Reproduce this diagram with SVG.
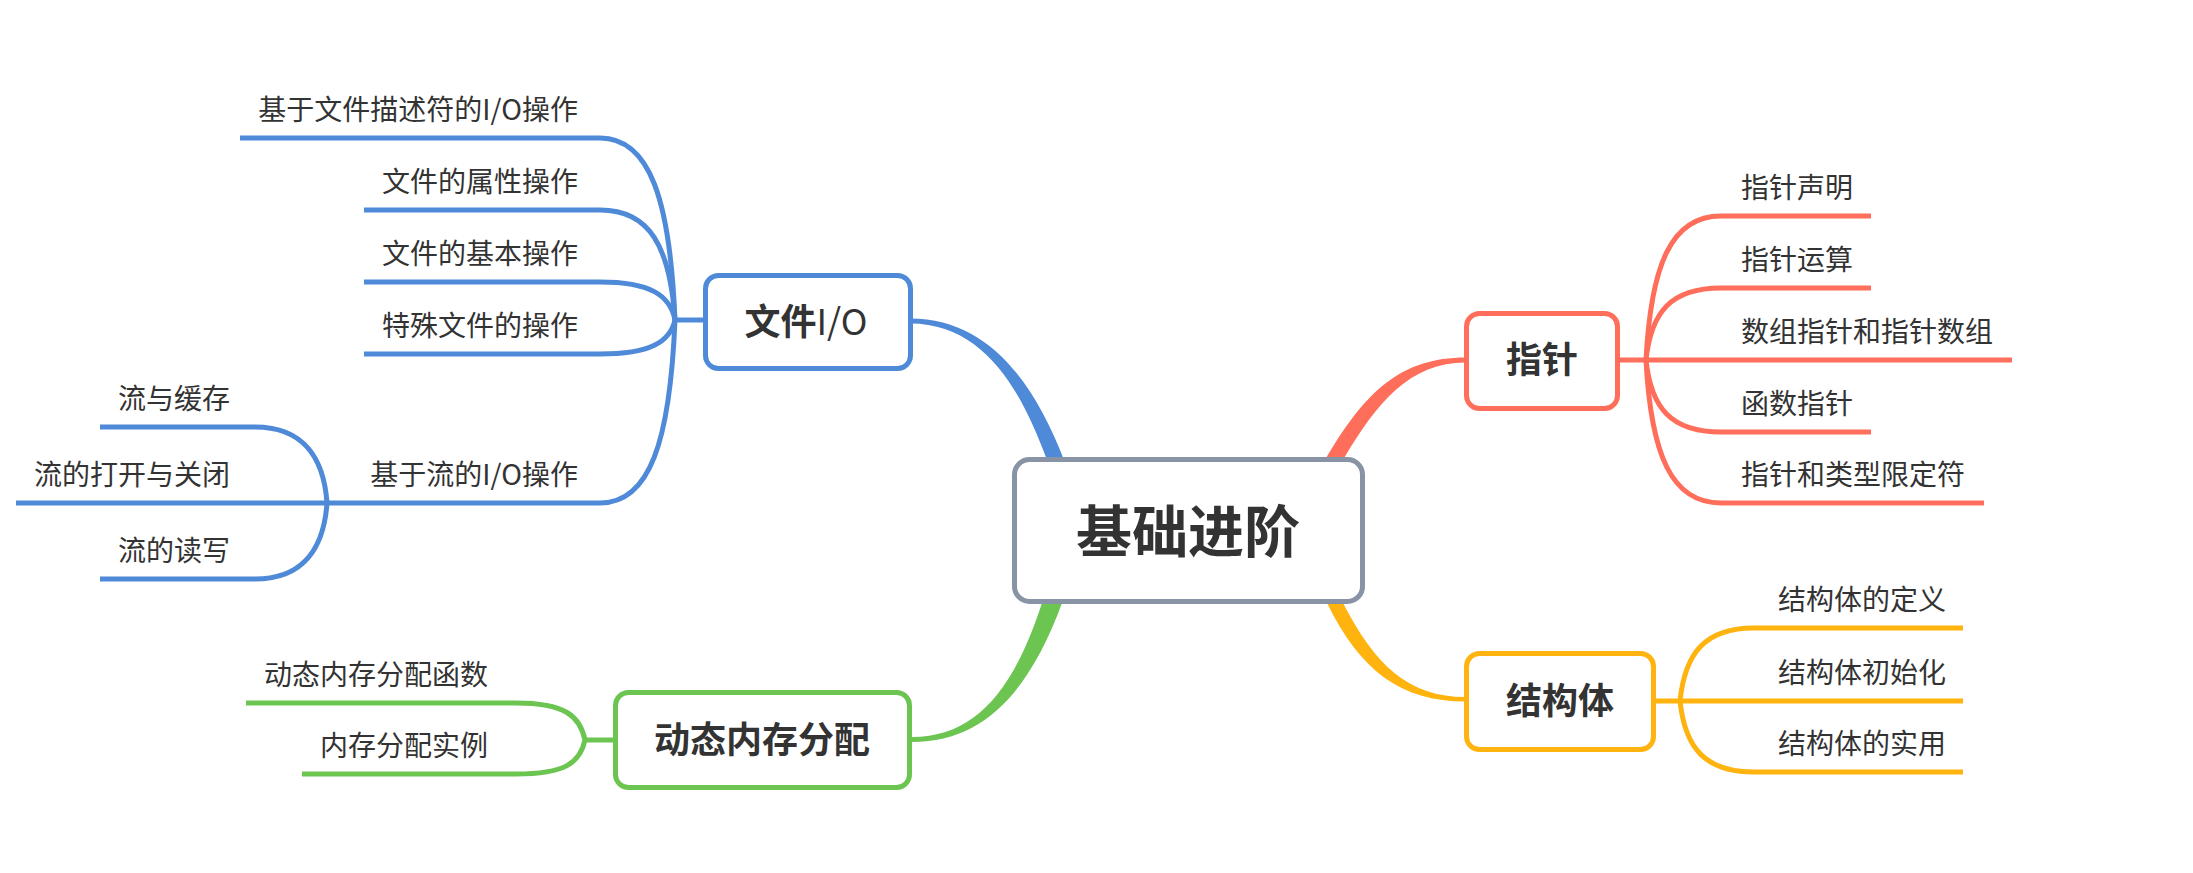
<svg xmlns="http://www.w3.org/2000/svg" width="2193" height="873" viewBox="0 0 2193 873">
<style>
.t{font-family:"Noto Sans CJK SC","Noto Sans",sans-serif;font-size:28px;fill:#333333}
.t1{font-family:"Noto Sans CJK SC","Noto Sans",sans-serif;font-size:36px;font-weight:bold;fill:#333333;text-anchor:middle}
.t0{font-family:"Noto Sans CJK SC","Noto Sans",sans-serif;font-size:56px;font-weight:bold;fill:#333333;text-anchor:middle}
.e{text-anchor:end}
.l{fill:none;stroke-width:5;stroke-linecap:butt}
.b{stroke:#4F8AD8}.r{stroke:#FF6E5A}.o{stroke:#FFB30F}.g{stroke:#6CC451}
.box{fill:#ffffff;stroke-width:5}
</style>
<rect width="2193" height="873" fill="#ffffff"/>
<g id="connectors">
<path d="M910,318.5 C990,318.5 1035,385 1064,460 L1047,460 C1022,392 985,323.5 910,323.5 Z" fill="#4F8AD8"/>
<path d="M1466,357.5 C1400,357.5 1365,392 1325,460 L1343,460 C1377,402 1410,362.5 1466,362.5 Z" fill="#FF6E5A"/>
<path d="M1062,603 C1030,690 985,742 912,742 L912,737 C978,737 1015,686 1042,603 Z" fill="#6CC451"/>
<path d="M1327,603 C1360,670 1400,701.5 1466,701.5 L1466,697 C1408,697 1375,665 1343,603 Z" fill="#FFB30F"/>
<g class="l b">
<path d="M675,320 C670,200 650,138 600,138 H240"/>
<path d="M675,320 C670,247 650,210 600,210 H364"/>
<path d="M675,320 C670,295 650,282 600,282 H364"/>
<path d="M675,320 C670,342 650,354 600,354 H364"/>
<path d="M675,320 C670,441 650,503 600,503 H16"/>
<path d="M673,320 H706"/>
<path d="M327,503 C324,460 305,427 255,427 H100"/>
<path d="M327,503 C324,546 305,579 255,579 H100"/>
</g>
<g class="l r">
<path d="M1646,360 C1651,265 1671,216 1721,216 H1871"/>
<path d="M1646,360 C1651,312 1671,288 1721,288 H1871"/>
<path d="M1617,360 H2012"/>
<path d="M1646,360 C1651,408 1671,432 1721,432 H1871"/>
<path d="M1646,360 C1651,454 1671,503 1721,503 H1984"/>
</g>
<g class="l o">
<path d="M1680,701 C1685,653 1705,628 1754,628 H1963"/>
<path d="M1653,701 H1963"/>
<path d="M1680,701 C1685,748 1705,772 1754,772 H1963"/>
</g>
<g class="l g">
<path d="M585,740 C580,716 565,703 516,703 H246"/>
<path d="M585,740 C580,763 565,774 516,774 H302"/>
<path d="M583,740 H617"/>
</g>
</g>
<g id="root">
<rect class="box" x="1014.5" y="459.5" width="348" height="142" rx="15" stroke="#8893A5"/>
<text class="t0" x="1188" y="552">基础进阶</text>
</g>
<g id="file-io">
<rect class="box" x="705.5" y="275.5" width="205" height="93" rx="13" stroke="#4F8AD8"/>
<text class="t1" x="806" y="335">文件<tspan font-weight="normal">I/O</tspan></text>
</g>
<g id="pointer">
<rect class="box" x="1466.5" y="313.5" width="151" height="95" rx="13" stroke="#FF6E5A"/>
<text class="t1" x="1542" y="373">指针</text>
</g>
<g id="struct">
<rect class="box" x="1466.5" y="653.5" width="187" height="96" rx="13" stroke="#FFB30F"/>
<text class="t1" x="1560" y="714">结构体</text>
</g>
<g id="dynmem">
<rect class="box" x="615.5" y="692.5" width="294" height="95" rx="13" stroke="#6CC451"/>
<text class="t1" x="762" y="753">动态内存分配</text>
</g>
<g id="file-children">
<text class="t e" x="578" y="120">基于文件描述符的I/O操作</text>
<text class="t e" x="578" y="192">文件的属性操作</text>
<text class="t e" x="578" y="264">文件的基本操作</text>
<text class="t e" x="578" y="336">特殊文件的操作</text>
<text class="t e" x="578" y="485">基于流的I/O操作</text>
<text class="t e" x="230" y="409">流与缓存</text>
<text class="t e" x="230" y="485">流的打开与关闭</text>
<text class="t e" x="230" y="561">流的读写</text>
</g>
<g id="pointer-children">
<text class="t" x="1741" y="198">指针声明</text>
<text class="t" x="1741" y="270">指针运算</text>
<text class="t" x="1741" y="342">数组指针和指针数组</text>
<text class="t" x="1741" y="414">函数指针</text>
<text class="t" x="1741" y="485">指针和类型限定符</text>
</g>
<g id="struct-children">
<text class="t" x="1778" y="610">结构体的定义</text>
<text class="t" x="1778" y="683">结构体初始化</text>
<text class="t" x="1778" y="754">结构体的实用</text>
</g>
<g id="dynmem-children">
<text class="t e" x="488" y="685">动态内存分配函数</text>
<text class="t e" x="488" y="756">内存分配实例</text>
</g>
</svg>
